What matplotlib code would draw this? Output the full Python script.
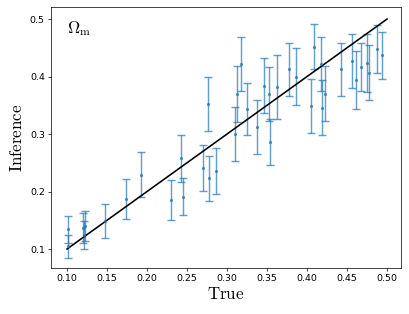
import matplotlib
matplotlib.use("Agg")
import matplotlib.pyplot as plt
import numpy as np

plt.rcParams['mathtext.fontset'] = 'cm'

true_vals = [0.1016, 0.1016, 0.120, 0.123, 0.121, 0.1475, 0.174, 0.1925, 0.230, 0.242,
             0.245, 0.2696, 0.276, 0.278, 0.2866, 0.310, 0.313, 0.3175, 0.325, 0.3375,
             0.3466, 0.3525, 0.354, 0.3625, 0.378, 0.386, 0.4046, 0.4088, 0.4175, 0.419,
             0.423, 0.442, 0.456, 0.461, 0.468, 0.4755, 0.477, 0.4875, 0.494]
inferred = [0.134, 0.105, 0.136, 0.140, 0.1245, 0.149, 0.187, 0.229, 0.185, 0.258,
            0.191, 0.241, 0.353, 0.223, 0.236, 0.3005, 0.370, 0.4217, 0.344, 0.3117,
            0.384, 0.370, 0.2866, 0.382, 0.413, 0.400, 0.348, 0.452, 0.422, 0.3457,
            0.370, 0.413, 0.427, 0.394, 0.4165, 0.4235, 0.407, 0.4485, 0.437]
errors = [0.023, 0.020, 0.026, 0.026, 0.0245, 0.030, 0.035, 0.039, 0.035, 0.041,
          0.032, 0.040, 0.047, 0.039, 0.040, 0.047, 0.049, 0.047, 0.045, 0.047,
          0.048, 0.047, 0.040, 0.055, 0.046, 0.049, 0.047, 0.039, 0.047, 0.048,
          0.048, 0.046, 0.047, 0.050, 0.042, 0.050, 0.048, 0.042, 0.041]
line_x = [0.1, 0.5]
line_y = [0.1, 0.5]
xticks = [0.10, 0.15, 0.20, 0.25, 0.30, 0.35, 0.40, 0.45, 0.50]
yticks = [0.1, 0.2, 0.3, 0.4, 0.5]

fig = plt.figure(figsize=(409/64, 314/64), dpi=64)
ax = fig.add_axes([51/409, 1-268/314, 350/409, 261/314])

ax.errorbar(true_vals, inferred, yerr=errors, fmt='o', color='#1f77b4', markersize=2.5,
            elinewidth=1.6, capsize=4, capthick=1.6, alpha=0.7)
ax.plot(line_x, line_y, color='black', linewidth=1.8)

ax.set_xticks(xticks)
ax.set_xticklabels([f"{v:.2f}" for v in xticks], fontsize=10.5)
ax.set_yticks(yticks)
ax.set_yticklabels([f"{v:.1f}" for v in yticks], fontsize=10.5)
ax.set_xlim(0.08, 0.5175)
ax.set_ylim(0.067, 0.521)

ax.set_xlabel(r'$\mathrm{True}$', fontsize=19, labelpad=2)
ax.set_ylabel(r'$\mathrm{Inference}$', fontsize=19, labelpad=4)
ax.text(0.045, 0.955, r'$\Omega_{\rm m}$', transform=ax.transAxes, fontsize=19,
        va='top', ha='left')

fig.savefig('out.png', dpi=64)
